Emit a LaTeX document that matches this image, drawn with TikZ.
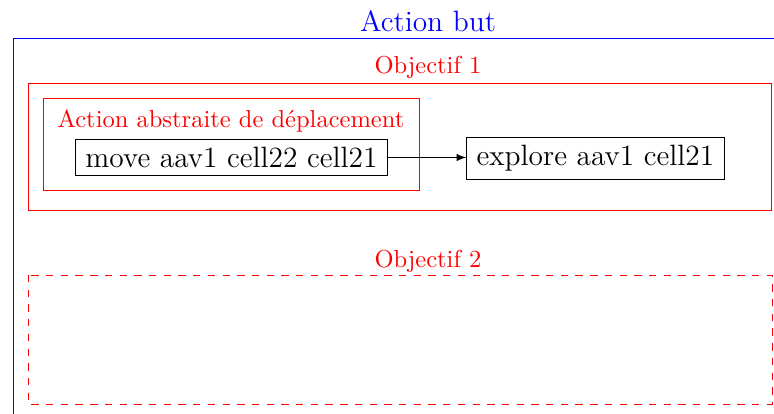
\documentclass[tikz,border=0pt]{standalone}
\usetikzlibrary{arrows}
\begin{document}
\begin{tikzpicture}[x=0.408pt,y=-0.408pt,
  actbox/.style={draw,black,font=\large,inner xsep=4pt,inner ysep=3.3pt},
  redlabel/.style={text=red,font=\normalsize,inner sep=0pt}]
\useasboundingbox (0,0) rectangle (774,414);
\clip (0,0) rectangle (774,414);
% outer blue
\node[text=blue,font=\large,inner sep=0pt] (title) at (428,21) {Action but};
\draw[blue] (13,440) -- (13,38) -- (800,38);
% Objectif 1
\draw[red] (28,83) rectangle (771,210);
\node[redlabel] (obj1) at (428,67) {Objectif 1};
% inner
\draw[red] (43,98) rectangle (419,190);
\node[redlabel] (abs) at (231,121) {Action abstraite de d\'eplacement};
\node[actbox] (move) at (231.5,157.5) {move aav1 cell22 cell21};
\node[actbox] (explore) at (595.5,158.5) {explore aav1 cell21};
\draw[-latex] (move.east) -- (move.east -| explore.west);
% Objectif 2
\draw[red,dashed] (28,275) rectangle (772,404);
\node[redlabel] (obj2) at (428,261) {Objectif 2};
\end{tikzpicture}
\end{document}
